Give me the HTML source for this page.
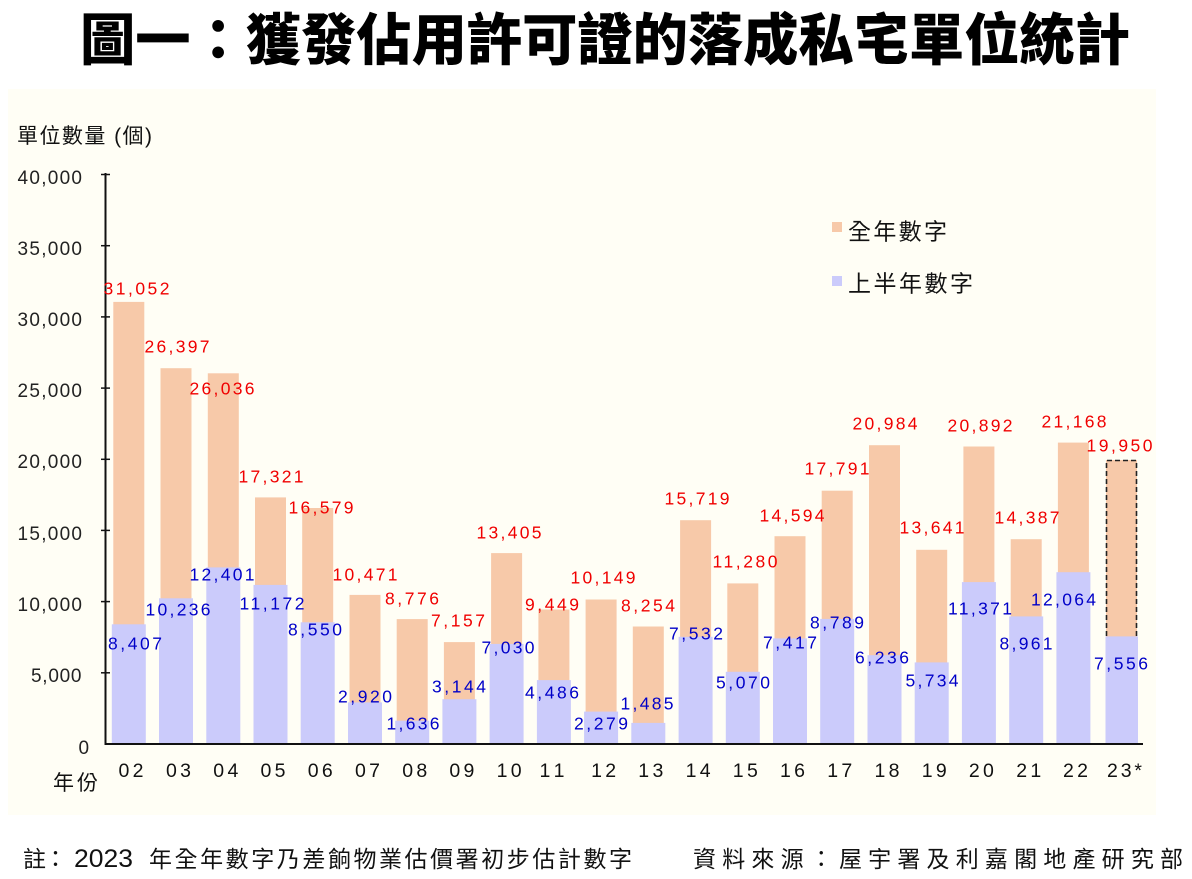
<!DOCTYPE html>
<html><head><meta charset="utf-8"><style>
html,body{margin:0;padding:0;background:#fff;}
svg{display:block;}
text{font-family:"Liberation Sans","Noto Sans CJK TC",sans-serif;}
.r{fill:#F00000;font-size:17.5px;}
.b{fill:#0000C8;font-size:17.5px;}
.yt{fill:#222;font-size:19px;}
.xt{fill:#111;font-size:19.5px;}
</style></head><body>
<svg width="1192" height="879" viewBox="0 0 1192 879" xmlns="http://www.w3.org/2000/svg">
<rect x="0" y="0" width="1192" height="879" fill="#ffffff"/>
<rect x="8" y="89" width="1148" height="726" fill="#FFFEF5"/>

<!-- Title -->
<text x="80" y="60" font-size="56" font-weight="900" fill="#000" textLength="1050" lengthAdjust="spacingAndGlyphs">圖一：獲發佔用許可證的落成私宅單位統計</text>

<!-- Y axis title -->
<text x="17" y="143" font-size="21" fill="#111" textLength="135" lengthAdjust="spacing">單位數量 (個)</text>

<!-- Y tick labels -->
<text class="yt" x="17.5" y="184" textLength="64.5" lengthAdjust="spacing">40,000</text>
<text class="yt" x="17.5" y="255" textLength="64.5" lengthAdjust="spacing">35,000</text>
<text class="yt" x="17.5" y="326" textLength="64.5" lengthAdjust="spacing">30,000</text>
<text class="yt" x="17.5" y="397" textLength="64.5" lengthAdjust="spacing">25,000</text>
<text class="yt" x="17.5" y="468" textLength="64.5" lengthAdjust="spacing">20,000</text>
<text class="yt" x="17.5" y="540" textLength="64.5" lengthAdjust="spacing">15,000</text>
<text class="yt" x="17.5" y="611" textLength="64.5" lengthAdjust="spacing">10,000</text>
<text class="yt" x="31" y="682" textLength="50.5" lengthAdjust="spacing">5,000</text>
<text class="yt" x="78.5" y="754">0</text>

<!-- Bars: full year (orange) -->
<g fill="#F7C9A9">
<rect x="113.3" y="301.9" width="31" height="441.1"/>
<rect x="160.5" y="368.2" width="31" height="374.8"/>
<rect x="207.8" y="373.3" width="31" height="369.7"/>
<rect x="255.0" y="497.4" width="31" height="245.6"/>
<rect x="302.2" y="508.0" width="31" height="235.0"/>
<rect x="349.5" y="594.9" width="31" height="148.1"/>
<rect x="396.7" y="619.1" width="31" height="123.9"/>
<rect x="443.9" y="642.1" width="31" height="100.9"/>
<rect x="491.1" y="553.1" width="31" height="189.9"/>
<rect x="538.4" y="609.5" width="31" height="133.5"/>
<rect x="585.6" y="599.5" width="31" height="143.5"/>
<rect x="632.8" y="626.5" width="31" height="116.5"/>
<rect x="680.1" y="520.2" width="31" height="222.8"/>
<rect x="727.3" y="583.4" width="31" height="159.6"/>
<rect x="774.5" y="536.2" width="31" height="206.8"/>
<rect x="821.7" y="490.7" width="31" height="252.3"/>
<rect x="869.0" y="445.2" width="31" height="297.8"/>
<rect x="916.2" y="549.8" width="31" height="193.2"/>
<rect x="963.4" y="446.5" width="31" height="296.5"/>
<rect x="1010.7" y="539.2" width="31" height="203.8"/>
<rect x="1057.9" y="442.6" width="31" height="300.4"/>
<rect x="1106.0" y="460.0" width="31" height="283.0"/>
</g>
<!-- Bars: first half (blue) -->
<g fill="#CBCBFB">
<rect x="111.8" y="624.3" width="34" height="118.7"/>
<rect x="159.0" y="598.3" width="34" height="144.7"/>
<rect x="206.3" y="567.4" width="34" height="175.6"/>
<rect x="253.5" y="584.9" width="34" height="158.1"/>
<rect x="300.7" y="622.3" width="34" height="120.7"/>
<rect x="348.0" y="702.4" width="34" height="40.6"/>
<rect x="395.2" y="720.7" width="34" height="22.3"/>
<rect x="442.4" y="699.2" width="34" height="43.8"/>
<rect x="489.6" y="643.9" width="34" height="99.1"/>
<rect x="536.9" y="680.1" width="34" height="62.9"/>
<rect x="584.1" y="711.6" width="34" height="31.4"/>
<rect x="631.3" y="722.9" width="34" height="20.1"/>
<rect x="678.6" y="636.8" width="34" height="106.2"/>
<rect x="725.8" y="671.8" width="34" height="71.2"/>
<rect x="773.0" y="638.4" width="34" height="104.6"/>
<rect x="820.2" y="618.9" width="34" height="124.1"/>
<rect x="867.5" y="655.2" width="34" height="87.8"/>
<rect x="914.7" y="662.4" width="34" height="80.6"/>
<rect x="961.9" y="582.1" width="34" height="160.9"/>
<rect x="1009.2" y="616.4" width="34" height="126.6"/>
<rect x="1056.4" y="572.2" width="34" height="170.8"/>
<rect x="1105.5" y="636.4" width="32.5" height="106.6"/>
</g>
<!-- dashed box for 23 -->
<polyline points="1106.5,636 1106.5,460.5 1136.5,460.5 1136.5,636" fill="none" stroke="#222" stroke-width="1.6" stroke-dasharray="5,3"/>

<!-- Axes -->
<line x1="105.5" y1="173" x2="105.5" y2="745" stroke="#111" stroke-width="2"/>
<line x1="104.5" y1="744" x2="1143" y2="744" stroke="#111" stroke-width="2"/>
<g stroke="#111" stroke-width="1.5">
<line x1="101" y1="174.5" x2="110" y2="174.5"/>
<line x1="101" y1="245.7" x2="110" y2="245.7"/>
<line x1="101" y1="316.9" x2="110" y2="316.9"/>
<line x1="101" y1="388.1" x2="110" y2="388.1"/>
<line x1="101" y1="459.3" x2="110" y2="459.3"/>
<line x1="101" y1="530.4" x2="110" y2="530.4"/>
<line x1="101" y1="601.6" x2="110" y2="601.6"/>
<line x1="101" y1="672.8" x2="110" y2="672.8"/>
</g>

<!-- Red labels (full year) -->
<g class="r" text-anchor="middle">
<text x="136.5" y="294.5" textLength="66" lengthAdjust="spacing">31,052</text>
<text x="177" y="352.5" textLength="65" lengthAdjust="spacing">26,397</text>
<text x="222" y="394.5" textLength="65" lengthAdjust="spacing">26,036</text>
<text x="271" y="482.5" textLength="65" lengthAdjust="spacing">17,321</text>
<text x="321" y="513.5" textLength="65" lengthAdjust="spacing">16,579</text>
<text x="365" y="580.5" textLength="65" lengthAdjust="spacing">10,471</text>
<text x="412" y="604.5" textLength="54" lengthAdjust="spacing">8,776</text>
<text x="458" y="626.5" textLength="54" lengthAdjust="spacing">7,157</text>
<text x="509" y="538.5" textLength="65" lengthAdjust="spacing">13,405</text>
<text x="552" y="610.5" textLength="54" lengthAdjust="spacing">9,449</text>
<text x="603" y="583.5" textLength="65" lengthAdjust="spacing">10,149</text>
<text x="648" y="611.5" textLength="54" lengthAdjust="spacing">8,254</text>
<text x="697" y="504.5" textLength="65" lengthAdjust="spacing">15,719</text>
<text x="745" y="567.5" textLength="65" lengthAdjust="spacing">11,280</text>
<text x="792" y="521.5" textLength="65" lengthAdjust="spacing">14,594</text>
<text x="837" y="474.5" textLength="65" lengthAdjust="spacing">17,791</text>
<text x="885" y="429.5" textLength="65" lengthAdjust="spacing">20,984</text>
<text x="932" y="533.5" textLength="65" lengthAdjust="spacing">13,641</text>
<text x="980" y="431.5" textLength="65" lengthAdjust="spacing">20,892</text>
<text x="1027" y="523.5" textLength="65" lengthAdjust="spacing">14,387</text>
<text x="1074" y="427.5" textLength="65" lengthAdjust="spacing">21,168</text>
<text x="1119.5" y="451.5" textLength="66" lengthAdjust="spacing">19,950</text>
</g>

<!-- Blue labels (first half) -->
<g class="b" text-anchor="middle">
<text x="135" y="649.5" textLength="54" lengthAdjust="spacing">8,407</text>
<text x="178" y="615.5" textLength="65" lengthAdjust="spacing">10,236</text>
<text x="222" y="580.5" textLength="65" lengthAdjust="spacing">12,401</text>
<text x="272" y="609.5" textLength="65" lengthAdjust="spacing">11,172</text>
<text x="315" y="635.5" textLength="54" lengthAdjust="spacing">8,550</text>
<text x="365" y="702.5" textLength="54" lengthAdjust="spacing">2,920</text>
<text x="413" y="729.5" textLength="53" lengthAdjust="spacing">1,636</text>
<text x="459" y="692.5" textLength="54" lengthAdjust="spacing">3,144</text>
<text x="508" y="653.5" textLength="53" lengthAdjust="spacing">7,030</text>
<text x="552" y="698.5" textLength="54" lengthAdjust="spacing">4,486</text>
<text x="601" y="729.5" textLength="54" lengthAdjust="spacing">2,279</text>
<text x="647" y="709.5" textLength="53" lengthAdjust="spacing">1,485</text>
<text x="696" y="639.5" textLength="54" lengthAdjust="spacing">7,532</text>
<text x="743" y="688.5" textLength="54" lengthAdjust="spacing">5,070</text>
<text x="790" y="648.5" textLength="54" lengthAdjust="spacing">7,417</text>
<text x="837" y="628.5" textLength="54" lengthAdjust="spacing">8,789</text>
<text x="882" y="663.5" textLength="54" lengthAdjust="spacing">6,236</text>
<text x="932" y="686.5" textLength="53" lengthAdjust="spacing">5,734</text>
<text x="980" y="614.5" textLength="64" lengthAdjust="spacing">11,371</text>
<text x="1026" y="649.5" textLength="53" lengthAdjust="spacing">8,961</text>
<text x="1063.5" y="605.5" textLength="65" lengthAdjust="spacing">12,064</text>
<text x="1121" y="669.5" textLength="54" lengthAdjust="spacing">7,556</text>
</g>

<!-- X labels -->
<g class="xt" text-anchor="middle">
<text x="131" y="777" textLength="25" lengthAdjust="spacing">02</text>
<text x="178.5" y="777" textLength="25" lengthAdjust="spacing">03</text>
<text x="225.8" y="777" textLength="25" lengthAdjust="spacing">04</text>
<text x="273" y="777" textLength="25" lengthAdjust="spacing">05</text>
<text x="320.2" y="777" textLength="25" lengthAdjust="spacing">06</text>
<text x="367.5" y="777" textLength="25" lengthAdjust="spacing">07</text>
<text x="414.7" y="777" textLength="25" lengthAdjust="spacing">08</text>
<text x="461.9" y="777" textLength="25" lengthAdjust="spacing">09</text>
<text x="509.1" y="777" textLength="25" lengthAdjust="spacing">10</text>
<text x="552" y="777" textLength="25" lengthAdjust="spacing">11</text>
<text x="603.6" y="777" textLength="25" lengthAdjust="spacing">12</text>
<text x="650.8" y="777" textLength="25" lengthAdjust="spacing">13</text>
<text x="698.1" y="777" textLength="25" lengthAdjust="spacing">14</text>
<text x="745.3" y="777" textLength="25" lengthAdjust="spacing">15</text>
<text x="792.5" y="777" textLength="25" lengthAdjust="spacing">16</text>
<text x="839.7" y="777" textLength="25" lengthAdjust="spacing">17</text>
<text x="887" y="777" textLength="25" lengthAdjust="spacing">18</text>
<text x="934.2" y="777" textLength="25" lengthAdjust="spacing">19</text>
<text x="981.4" y="777" textLength="25" lengthAdjust="spacing">20</text>
<text x="1028.7" y="777" textLength="25" lengthAdjust="spacing">21</text>
<text x="1075.5" y="777" textLength="25" lengthAdjust="spacing">22</text>
</g>
<text class="xt" x="1107" y="777" textLength="35" lengthAdjust="spacing">23*</text>
<text x="53" y="790" font-size="21" fill="#111" textLength="45" lengthAdjust="spacing">年份</text>

<!-- Legend -->
<rect x="832" y="222" width="10" height="10" fill="#F7C9A9"/>
<text x="848" y="239.5" font-size="23" fill="#111" textLength="99" lengthAdjust="spacing">全年數字</text>
<rect x="832" y="276" width="10" height="10" fill="#CBCBFB"/>
<text x="848" y="291.5" font-size="23" fill="#111" textLength="125" lengthAdjust="spacing">上半年數字</text>

<!-- Footnotes -->
<text x="23" y="867" font-size="23" fill="#111" textLength="44" lengthAdjust="spacing">註：</text>
<text x="74" y="867" font-size="25" fill="#111" textLength="59" lengthAdjust="spacingAndGlyphs">2023</text>
<text x="149" y="867" font-size="23" fill="#111" textLength="483" lengthAdjust="spacing">年全年數字乃差餉物業估價署初步估計數字</text>
<text x="693" y="867" font-size="23" fill="#111" textLength="490" lengthAdjust="spacing">資料來源：屋宇署及利嘉閣地產研究部</text>
</svg>
</body></html>
